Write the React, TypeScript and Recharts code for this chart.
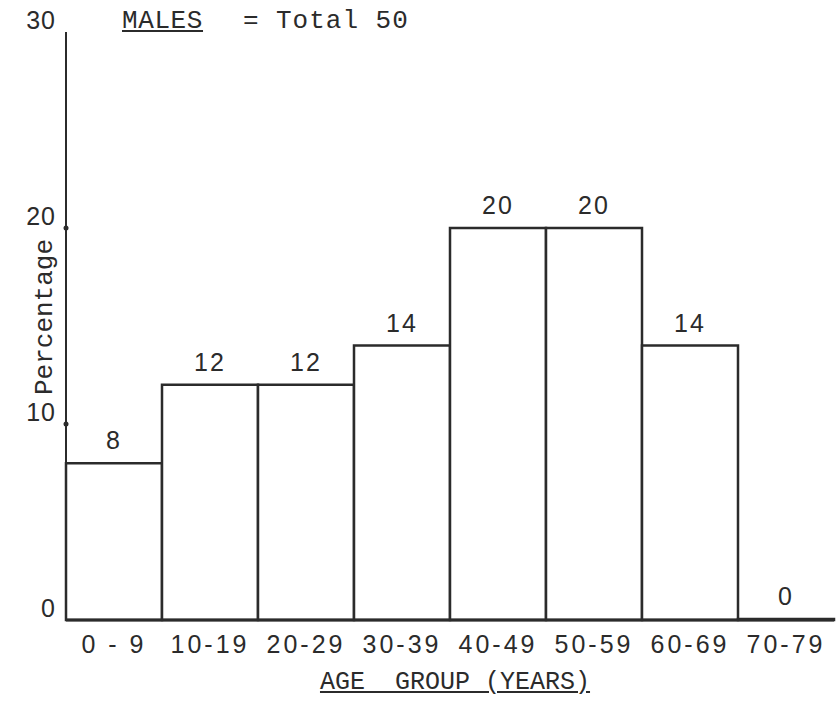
import React from "react"
import { BarChart, Bar, XAxis, YAxis, LabelList } from "recharts"

const ageGroups = ["0 - 9", "10-19", "20-29", "30-39", "40-49", "50-59", "60-69", "70-79"]
const percentages = [8, 12, 12, 14, 20, 20, 14, 0]
const yTicks = [0, 10, 20, 30]

const ink = "#2b2b2b"
const typeFont = "'Liberation Mono', 'Courier New', monospace"
const digitFont = "'Liberation Sans', Arial, sans-serif"

const data = ageGroups.map((group, i) => ({ group, pct: percentages[i] }))

function YTick(props: any) {
  const { x, y, payload } = props
  const axisX = x + 8
  return (
    <g>
      <text
        x={axisX - 10}
        y={y - 3}
        textAnchor="end"
        fill={ink}
        fontFamily={digitFont}
        fontSize={25}
        letterSpacing={1}
      >
        {payload.value}
      </text>
      {payload.value > 0 && payload.value < 30 && <circle cx={axisX} cy={y} r={2.5} fill={ink} />}
    </g>
  )
}

export default function App() {
  return (
    <div
      style={{
        position: "absolute",
        left: 0,
        top: 0,
        width: 837,
        height: 728,
        background: "#fff",
        color: ink,
      }}
    >
      <BarChart
        width={837}
        height={728}
        data={data}
        barCategoryGap={0}
        margin={{ top: 32, right: 3, bottom: 0, left: 0 }}
      >
        <XAxis
          dataKey="group"
          height={108}
          tickLine={false}
          tickMargin={9}
          axisLine={{ stroke: ink, strokeWidth: 3 }}
          tick={{ fill: ink, fontSize: 25, fontFamily: digitFont, letterSpacing: 3 }}
          interval={0}
        />
        <YAxis
          width={66}
          domain={[0, 30]}
          ticks={yTicks}
          tickLine={false}
          axisLine={{ stroke: ink, strokeWidth: 2 }}
          tick={<YTick />}
        />
        <Bar
          dataKey="pct"
          fill="#fff"
          stroke={ink}
          strokeWidth={2.5}
          minPointSize={1}
          isAnimationActive={false}
        >
          <LabelList
            dataKey="pct"
            position="top"
            offset={14}
            fill={ink}
            fontFamily={digitFont}
            fontSize={25}
            letterSpacing={2}
          />
        </Bar>
      </BarChart>

      <div style={{ position: "absolute", left: 122, top: 6, fontFamily: typeFont, fontSize: 26, letterSpacing: 0.6, whiteSpace: "pre" }}>
        <span style={{ textDecoration: "underline" }}>MALES</span>
      </div>
      <div style={{ position: "absolute", left: 243, top: 6, fontFamily: typeFont, fontSize: 26 }}>=</div>
      <div style={{ position: "absolute", left: 276, top: 6, fontFamily: typeFont, fontSize: 26, letterSpacing: 1, whiteSpace: "pre" }}>
        Total 50
      </div>

      <div
        style={{
          position: "absolute",
          left: 45,
          top: 317,
          transform: "translate(-50%, -50%) rotate(-90deg)",
          fontFamily: typeFont,
          fontSize: 26,
          whiteSpace: "pre",
        }}
      >
        Percentage
      </div>

      <div
        style={{
          position: "absolute",
          left: 455,
          top: 668,
          transform: "translateX(-50%)",
          fontFamily: typeFont,
          fontSize: 25,
          whiteSpace: "pre",
          textDecoration: "underline",
        }}
      >
        AGE  GROUP (YEARS)
      </div>
    </div>
  )
}
